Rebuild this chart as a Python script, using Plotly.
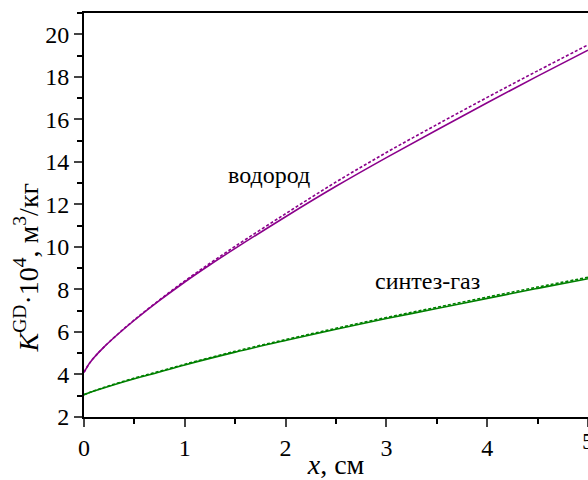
import plotly.graph_objects as go

# x positions, cm
x_h = [0, 0.05, 0.1, 0.2, 0.35, 0.5, 0.75, 1, 1.25, 1.5, 2, 2.5, 3, 3.5, 4, 4.5, 5]
h_solid = [4.1, 4.5, 4.8, 5.3, 5.95, 6.55, 7.48, 8.35, 9.16, 9.93, 11.42, 12.85, 14.2, 15.5, 16.78, 18.03, 19.25]
h_dotted = [4.1, 4.5, 4.8, 5.3, 5.96, 6.57, 7.51, 8.4, 9.23, 10.03, 11.56, 13.05, 14.44, 15.75, 17.03, 18.28, 19.5]

x_g = [0, 0.1, 0.25, 0.5, 0.75, 1, 1.5, 2, 2.5, 3, 3.5, 4, 4.5, 5]
g_solid = [3.05, 3.22, 3.45, 3.8, 4.12, 4.45, 5.05, 5.6, 6.13, 6.63, 7.1, 7.58, 8.05, 8.5]
g_dotted = [3.05, 3.23, 3.47, 3.83, 4.15, 4.48, 5.09, 5.64, 6.17, 6.68, 7.16, 7.64, 8.11, 8.57]

x_ticks = [0, 1, 2, 3, 4, 5]
y_ticks = [2, 4, 6, 8, 10, 12, 14, 16, 18, 20]

PURPLE = "#8B008B"
GREEN = "#008000"
FONT = "Liberation Serif, Times New Roman, serif"

fig = go.Figure()
fig.add_trace(go.Scatter(x=x_h, y=h_dotted, mode="lines", line=dict(color=PURPLE, width=1.6, dash="3px,2px", shape="spline")))
fig.add_trace(go.Scatter(x=x_h, y=h_solid, mode="lines", line=dict(color=PURPLE, width=1.6, shape="spline")))
fig.add_trace(go.Scatter(x=x_g, y=g_dotted, mode="lines", line=dict(color=GREEN, width=1.6, dash="3px,2px", shape="spline")))
fig.add_trace(go.Scatter(x=x_g, y=g_solid, mode="lines", line=dict(color=GREEN, width=1.6, shape="spline")))

fig.add_annotation(x=1.835, y=13.37, text="водород", showarrow=False,
                   font=dict(family=FONT, size=24, color="black"))
fig.add_annotation(x=3.41, y=8.38, text="синтез-газ", showarrow=False,
                   font=dict(family=FONT, size=24, color="black"))
fig.add_annotation(xref="paper", yref="paper", x=0, y=0.37, xshift=-57,
                   text="<i>K</i><sup>GD</sup>·10<sup>4</sup>, м<sup>3</sup>/кг",
                   textangle=-90, showarrow=False, xanchor="center", yanchor="middle",
                   font=dict(family=FONT, size=28, color="black"))
# last tick label, cut by the right edge as in the reference
fig.add_annotation(xref="x", yref="paper", x=x_ticks[-1], y=0, yanchor="top", yshift=-9,
                   text=str(x_ticks[-1]), showarrow=False,
                   font=dict(family=FONT, size=24, color="black"))

fig.update_layout(
    width=588, height=480,
    margin=dict(l=84, r=0, t=13, b=56),
    plot_bgcolor="white", paper_bgcolor="white",
    showlegend=False,
    font=dict(family=FONT, color="black"),
    xaxis=dict(range=[0, 5], tickvals=x_ticks, ticks="outside", ticklen=8, tickwidth=1.5,
               showline=True, linewidth=2, linecolor="black", mirror=True,
               showgrid=False, zeroline=False,
               minor=dict(dtick=0.5, ticks="outside", ticklen=5, tickwidth=1.5, tickcolor="black"),
               tickfont=dict(family=FONT, size=24, color="black"),
               title=dict(text="<i>x</i>, см", font=dict(family=FONT, size=28, color="black"), standoff=0)),
    yaxis=dict(range=[2, 21], tickvals=y_ticks, ticks="outside", ticklen=8, tickwidth=1.5,
               showline=True, linewidth=2, linecolor="black", mirror=False,
               showgrid=False, zeroline=False,
               minor=dict(dtick=1, ticks="outside", ticklen=5, tickwidth=1.5, tickcolor="black"),
               tickfont=dict(family=FONT, size=24, color="black")),
)

fig.write_html("out.html")
